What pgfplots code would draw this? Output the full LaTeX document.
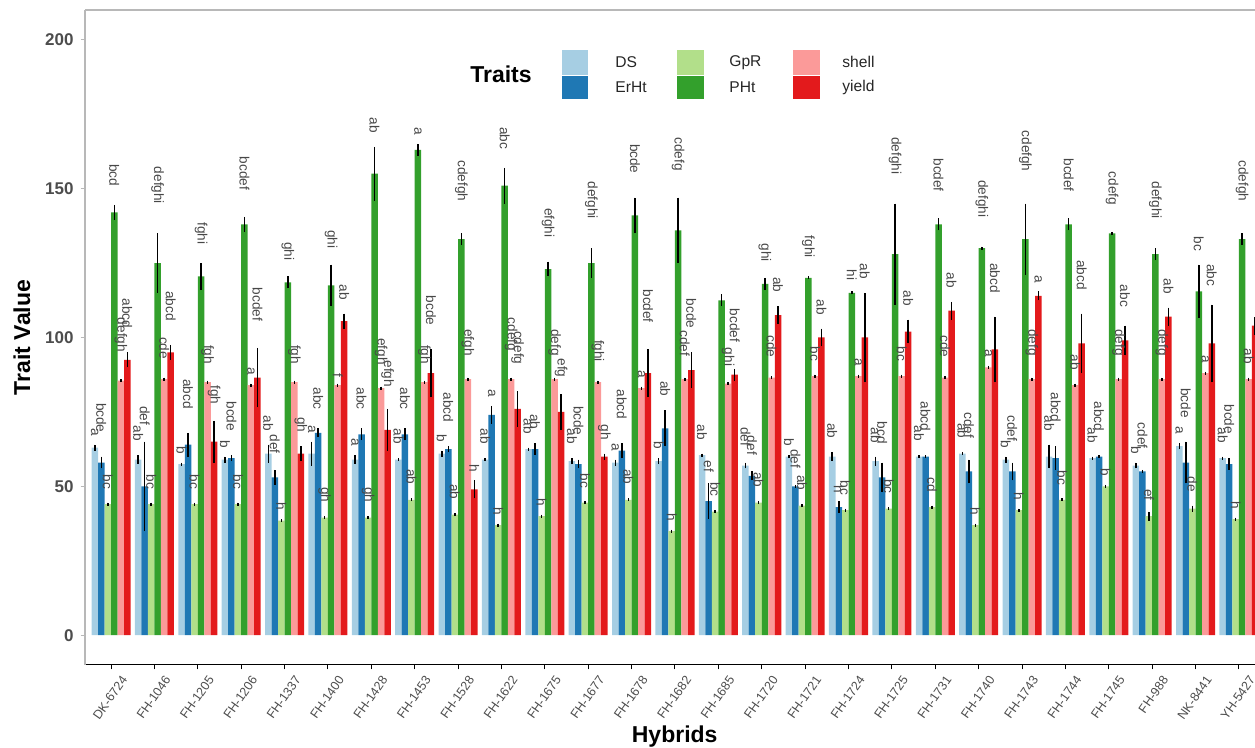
\documentclass[border=0pt]{standalone}
\usepackage{pgfplots}
\pgfplotsset{compat=1.18}
\usepackage{pgfplotstable}
\usepackage{graphicx}
\usepackage{fontspec}
\setmainfont{Liberation Sans}
\setsansfont{Liberation Sans}
\definecolor{cDS}{HTML}{A6CEE3}
\definecolor{cEr}{HTML}{1F78B4}
\definecolor{cGp}{HTML}{B2DF8A}
\definecolor{cPH}{HTML}{33A02C}
\definecolor{cSh}{HTML}{FB9A99}
\definecolor{cYd}{HTML}{E31A1C}
\definecolor{txt}{HTML}{4D4D4D}
\definecolor{brd}{HTML}{B8B8B8}

\pgfplotstableread{
i y e l
0 63 1 a
1 59 1.5 ab
2 57.5 0.5 b
3 59 1 b
4 61 3 ab
5 61 4 a
6 59 1.5 a
7 59 0.5 ab
8 61 1 b
9 59 0.5 ab
10 62.5 0.5 ab
11 58.5 1 ab
12 58 1 a
13 58.5 1 b
14 60.5 0.5 ab
15 57 1 def
16 60 0.5 b
17 60 1.5 ab
18 58.5 1.5 ab
19 60 0.5 ab
20 61 0.5 ab
21 59 1 b
22 60 4 ab
23 59.5 0.5 ab
24 57 1 b
25 63.5 1 a
26 59.5 0.5 ab
}\tDS

\pgfplotstableread{
i y e l
0 58 2 bcde
1 50 15 def
2 64 4 abcd
3 59.5 1 bcde
4 53 2.5 def
5 68 1.5 abc
6 67.5 2 abc
7 67.5 2 abc
8 62.5 1 abcd
9 74 3 a
10 62.5 2 ab
11 57.5 1.5 bcde
12 62 2.5 abcd
13 69.5 6 ab
14 45 6 ef
15 53.5 1.5 def
16 50 0.5 def
17 43 2 h
18 53 5 bcd
19 60 0.5 abcd
20 55 4 cdef
21 55 3 cdef
22 59.5 4 abcd
23 60 0.5 abcd
24 55 0.5 cdef
25 58 7 bcde
26 57.5 2 bcde
}\tEr

\pgfplotstableread{
i y e l
0 44 0.5 bc
1 44 0.5 bc
2 44 0.5 bc
3 44 0.5 bc
4 38.5 0.5 h
5 39.5 0.5 gh
6 39.5 0.5 gh
7 45.5 0.5 ab
8 40.5 0.5 ab
9 37 0.5 h
10 40 0.5 h
11 44.5 0.5 bc
12 45.5 0.5 ab
13 35 0.5 h
14 41.5 0.5 bc
15 44.5 0.5 ab
16 43.5 0.5 ab
17 42 0.5 bc
18 42.5 0.5 bc
19 43 0.5 cd
20 37 0.5 h
21 42 0.5 h
22 45.5 0.5 bc
23 50 0.5 b
24 40 1.5 ef
25 42.5 1 de
26 39 0.5 h
}\tGp

\pgfplotstableread{
i y e l
0 142 2.5 bcd
1 125 10 defghi
2 120.5 4.5 fghi
3 138 2.5 bcdef
4 118.5 2 ghi
5 117.5 7 ghi
6 155 9 ab
7 163 2 a
8 133 2 cdefgh
9 151 6 abc
10 123 2.5 efghi
11 125 5 defghi
12 141 6 bcde
13 136 11 cdefg
14 112.5 2 {}
15 118 2 ghi
16 120 0.5 fghi
17 115 0.5 hi
18 128 17 defghi
19 138 2 bcdef
20 130 0.5 defghi
21 133 12 cdefgh
22 138 2 bcdef
23 135 0.5 cdefg
24 128 2 defghi
25 115.5 9 bc
26 133 2 cdefgh
}\tPH

\pgfplotstableread{
i y e l
0 85.5 0.5 defgh
1 86 0.5 cde
2 85 0.5 fgh
3 84 0.5 a
4 85 0.5 fgh
5 84 0.5 f
6 83 0.5 efgh
7 85 0.5 fgh
8 86 0.5 efgh
9 86 0.5 cdefg
10 86 0.5 defg
11 85 0.5 fghi
12 83 0.5 a
13 86 0.5 cdef
14 84.5 0.5 ghi
15 86.5 0.5 cde
16 87 0.5 bc
17 87 0.5 a
18 87 0.5 bc
19 86.5 0.5 cde
20 90 0.5 a
21 86 0.5 defg
22 84 0.5 ab
23 86 0.5 defg
24 86 0.5 defg
25 88 0.5 a
26 86 0.5 ab
}\tSh

\pgfplotstableread{
i y e l
0 92.5 2.5 abcd
1 95 2.5 abcd
2 65 7 fgh
3 86.5 10 bcdef
4 61 2.5 gh
5 105.5 2.5 ab
6 69 7 efgh
7 88 8 bcde
8 49 3 h
9 76 6 cdefg
10 75 6 efg
11 60 1 gh
12 88 8 bcdef
13 89 6 bcde
14 87.5 2 bcdef
15 107.5 3 ab
16 100 3 ab
17 100 15 ab
18 102 4 ab
19 109 3 ab
20 96 11 abcd
21 114 1.5 a
22 98 10 abcd
23 99 5 abc
24 107 3 ab
25 98 13 abc
26 104 3 ab
}\tYd

\newcommand{\bars}[3]{%
\addplot[ybar, bar width=0.15, bar shift=0pt, fill=#2, draw=none,
  error bars/.cd, y dir=both, y explicit,
  error bar style={line width=0.75pt, black}, error mark=none]
  table[x expr=\thisrow{i}+#3, y=y, y error=e] {#1};
\addplot[draw=none, mark=none, nodes near coords={\pgfplotspointmeta\scalebox{0.7}{\phantom{\pgfplotspointmeta}}}, point meta=explicit symbolic,
  nodes near coords style={rotate=-90, anchor=east, font=\fontsize{6.8}{7}\selectfont, text=black!72, inner sep=0pt}]
  table[x expr=\thisrow{i}+#3, y expr=\thisrow{y}+\thisrow{e}+1, meta=l] {#1};
}

\begin{document}
\begin{tikzpicture}
\useasboundingbox (0,0) rectangle (627.5pt,374pt);
\begin{axis}[
  at={(42.5pt,41.5pt)}, anchor=south west,
  scale only axis, width=585pt, height=327.5pt,
  xmin=-0.6, xmax=26.37, ymin=-10, ymax=210,
  axis x line*=bottom, axis y line*=left,
  x axis line style={-, black, line width=0.5pt},
  y axis line style={-, brd, line width=0.8pt},
  tick align=outside, major tick length=2.2pt,
  xtick={0,...,26},
  xticklabels={DK-6724,FH-1046,FH-1205,FH-1206,FH-1337,FH-1400,FH-1428,FH-1453,FH-1528,FH-1622,FH-1675,FH-1677,FH-1678,FH-1682,FH-1685,FH-1720,FH-1721,FH-1724,FH-1725,FH-1731,FH-1740,FH-1743,FH-1744,FH-1745,FH-988,NK-8441,YH-5427},
  x tick label style={xshift=4.5pt, yshift=-1pt, rotate=55, anchor=north east, font=\fontsize{6.3}{7}\selectfont, text=txt, inner sep=1pt},
  xtick style={black, line width=0.5pt},
  ytick={0,50,100,150,200},
  y tick label style={font=\fontsize{8.5}{9}\selectfont\bfseries, text=txt},
  ytick style={brd, line width=0.6pt},
  /pgf/number format/assume math mode=true,
  xlabel={Hybrids}, ylabel={Trait Value},
  every axis x label/.style={at={(axis description cs:0.504,-0.11)}, anchor=center, font=\fontsize{11.5}{12}\selectfont\bfseries},
  every axis y label/.style={at={(axis description cs:-0.054,0.5)}, rotate=90, anchor=center, font=\fontsize{11.5}{12}\selectfont\bfseries},
]
\bars{\tDS}{cDS}{-0.375}
\bars{\tEr}{cEr}{-0.225}
\bars{\tGp}{cGp}{-0.075}
\bars{\tPH}{cPH}{0.075}
\bars{\tSh}{cSh}{0.225}
\bars{\tYd}{cYd}{0.375}
\end{axis}
% top panel border
\draw[brd, line width=0.8pt] (42.5pt,369pt) -- (627.5pt,369pt);
% legend
\node[font=\fontsize{11.5}{12}\selectfont\bfseries, anchor=center] at (250.5pt,337pt) {Traits};
\fill[cDS] (281pt,349pt) rectangle (294pt,336.7pt);
\fill[cEr] (281pt,336.2pt) rectangle (294pt,324.5pt);
\fill[cGp] (338.5pt,349pt) rectangle (352pt,336.7pt);
\fill[cPH] (338.5pt,336.2pt) rectangle (352pt,324.5pt);
\fill[cSh] (396.5pt,349pt) rectangle (410pt,336.7pt);
\fill[cYd] (396.5pt,336.2pt) rectangle (410pt,324.5pt);
\begin{scope}[every node/.style={anchor=west, font=\fontsize{7.8}{8}\selectfont, text=black!85, inner sep=0pt}]
\node at (307.5pt,342.8pt) {DS};
\node at (307.5pt,330.3pt) {ErHt};
\node at (364.5pt,342.8pt) {GpR};
\node at (364.5pt,330.3pt) {PHt};
\node at (421pt,342.8pt) {shell};
\node at (421pt,330.3pt) {yield};
\end{scope}
\end{tikzpicture}
\end{document}
